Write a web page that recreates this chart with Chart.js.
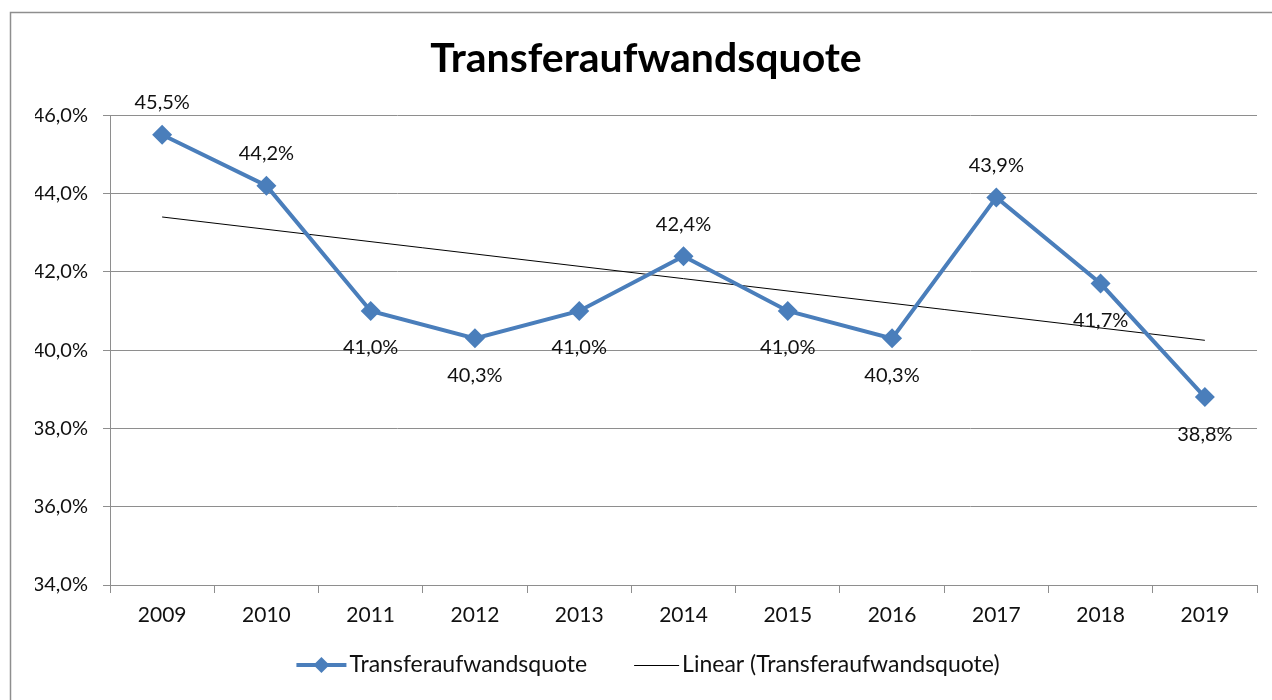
<!DOCTYPE html>
<html>
<head>
<meta charset="utf-8">
<script src="https://cdn.jsdelivr.net/npm/chart.js@4/dist/chart.umd.min.js"></script>
<style>
  body { margin: 0; background: #fff; }
  #wrap { width: 1272px; height: 700px; }
</style>
</head>
<body>
<div id="wrap"><canvas id="meuGrafico" width="1272" height="700"></canvas></div>
<script>
const jahre = ["2009", "2010", "2011", "2012", "2013", "2014", "2015", "2016", "2017", "2018", "2019"];
const quote = [45.5, 44.2, 41.0, 40.3, 41.0, 42.4, 41.0, 40.3, 43.9, 41.7, 38.8];
// Endpunkte der linearen Trendlinie
const trendEnden = [43.4, 40.25];
const yTicks = [34, 36, 38, 40, 42, 44, 46];

const serienName = "Transferaufwandsquote";
const trendName = "Linear (Transferaufwandsquote)";

const blau = "#4a7ebb";
const grau = "#8e8e8e";
const schrift = "Lato, 'Liberation Sans', sans-serif";

// Trendlinie: nur erster und letzter Punkt, dazwischen Lücken
const trendDaten = jahre.map((j, i) => {
  if (i === 0) return trendEnden[0];
  if (i === jahre.length - 1) return trendEnden[1];
  return null;
});

// Label oberhalb (true) oder unterhalb (false) des Punktes
const labelOben = [true, true, false, false, false, true, false, false, true, false, false];

function formatProzent(v) {
  return v.toFixed(1).replace(".", ",") + "%";
}

const datenLabels = {
  id: "datenLabels",
  afterDatasetsDraw(chart) {
    const ctx = chart.ctx;
    const meta = chart.getDatasetMeta(0);
    ctx.save();
    ctx.font = "20px " + schrift;
    ctx.fillStyle = "#111";
    ctx.textAlign = "center";
    ctx.textBaseline = "middle";
    meta.data.forEach((pt, i) => {
      const dy = labelOben[i] ? -32 : 37;
      ctx.fillText(formatProzent(quote[i]), pt.x, pt.y + dy);
    });
    ctx.restore();
  },
};

const rahmenUndLegende = {
  id: "rahmenUndLegende",
  afterDraw(chart) {
    const ctx = chart.ctx;
    ctx.save();
    // Rahmen des Diagramms
    ctx.strokeStyle = grau;
    ctx.lineWidth = 1.5;
    ctx.strokeRect(10.5, 12.5, 1300, 720);

    // Legende
    ctx.font = "23px " + schrift;
    ctx.textBaseline = "middle";
    ctx.fillStyle = "#111";
    const y = 665;
    const w1 = ctx.measureText(serienName).width;
    const w2 = ctx.measureText(trendName).width;
    const linie = 50;
    const abstand = 47;
    const gesamt = linie + 3 + w1 + abstand + linie - 5 + 3 + w2;
    let x = 648 - gesamt / 2;

    ctx.strokeStyle = blau;
    ctx.lineWidth = 4;
    ctx.beginPath();
    ctx.moveTo(x, y);
    ctx.lineTo(x + linie, y);
    ctx.stroke();
    ctx.fillStyle = blau;
    ctx.beginPath();
    const cx = x + linie / 2;
    ctx.moveTo(cx, y - 8);
    ctx.lineTo(cx + 8, y);
    ctx.lineTo(cx, y + 8);
    ctx.lineTo(cx - 8, y);
    ctx.closePath();
    ctx.fill();
    x += linie + 3;
    ctx.fillStyle = "#111";
    ctx.fillText(serienName, x, y);
    x += w1 + abstand;

    ctx.strokeStyle = "#000";
    ctx.lineWidth = 1;
    ctx.beginPath();
    ctx.moveTo(x, y + 0.5);
    ctx.lineTo(x + linie - 5, y + 0.5);
    ctx.stroke();
    x += linie - 5 + 3;
    ctx.fillText(trendName, x, y);
    ctx.restore();
  },
};

const ctx = document.getElementById("meuGrafico").getContext("2d");
const meuGrafico = new Chart(ctx, {
  type: "line",
  data: {
    labels: jahre,
    datasets: [
      {
        label: serienName,
        data: quote,
        borderColor: blau,
        backgroundColor: blau,
        borderWidth: 4,
        pointStyle: "rectRot",
        pointRadius: 10,
        pointBackgroundColor: blau,
        pointBorderColor: blau,
        pointBorderWidth: 0,
        tension: 0,
      },
      {
        label: trendName,
        data: trendDaten,
        borderColor: "#000",
        borderWidth: 1,
        pointRadius: 0,
        spanGaps: true,
        tension: 0,
      },
    ],
  },
  options: {
    responsive: false,
    animation: false,
    devicePixelRatio: 1,
    layout: { padding: { left: 35, right: 15, bottom: 0 } },
    plugins: {
      legend: { display: false },
      tooltip: { enabled: false },
      title: {
        display: true,
        text: serienName,
        color: "#000",
        font: { family: schrift, size: 41, weight: "bold" },
        padding: { top: 34, bottom: 32 },
      },
    },
    scales: {
      x: {
        offset: true,
        grid: {
          offset: true,
          drawOnChartArea: false,
          color: grau,
          tickLength: 8,
        },
        border: { color: grau },
        ticks: {
          color: "#111",
          font: { family: schrift, size: 21 },
          padding: 10,
        },
        afterFit(scale) {
          scale.height = 115;
        },
      },
      y: {
        min: 34,
        max: 46,
        afterBuildTicks(scale) {
          scale.ticks = yTicks.map((v) => ({ value: v }));
        },
        grid: { color: grau, tickLength: 7 },
        border: { color: grau },
        ticks: {
          color: "#111",
          font: { family: schrift, size: 20 },
          padding: 15,
          callback: (v) => formatProzent(v),
        },
        afterFit(scale) {
          scale.width = 75;
        },
      },
    },
  },
  plugins: [datenLabels, rahmenUndLegende],
});
</script>
</body>
</html>
